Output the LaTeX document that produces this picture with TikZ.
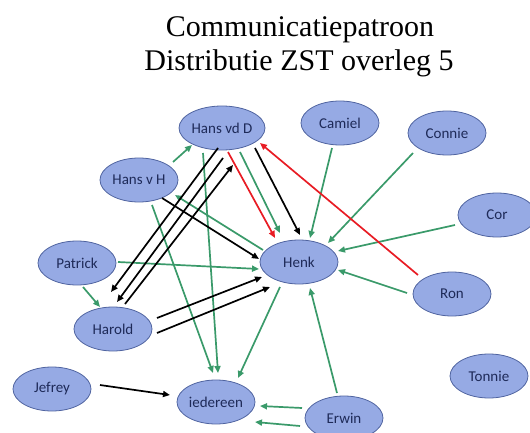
\documentclass[tikz,border=0pt]{standalone}
\usepackage{fontspec}
\setmainfont{Liberation Serif}
\newfontfamily\calibri{Carlito}
\usetikzlibrary{shapes.geometric,arrows.meta}

\definecolor{nodefill}{RGB}{150,170,228}
\definecolor{nodeline}{RGB}{80,100,160}
\definecolor{nodetext}{RGB}{30,42,88}
\definecolor{talkgreen}{RGB}{58,154,106}
\definecolor{talkred}{RGB}{232,28,36}

\tikzset{
  person/.style={ellipse, draw=nodeline, fill=nodefill, line width=0.8pt,
    minimum width=78pt, minimum height=44pt, inner sep=0pt,
    text=nodetext, font=\calibri\fontsize{15}{18}\selectfont},
  talk/.style={line width=1.7pt, -{Triangle[length=7pt,width=6pt]}},
  gtalk/.style={talk, draw=talkgreen},
  btalk/.style={talk, draw=black},
  rtalk/.style={talk, draw=talkred},
  heading/.style={anchor=base, font=\fontsize{30}{34}\selectfont}
}

\begin{document}
\begin{tikzpicture}[x=1pt,y=-1pt]
  \useasboundingbox (0,0) rectangle (530,433);

  % title
  \node[heading] (title1) at (300,37) {Communicatiepatroon};
  \node[heading] (title2) at (299,71) {Distributie ZST overleg 5};

  % people
  \node[person] (hvdd) at (222,128) {Hans vd D};
  \node[person] (camiel) at (340,123) {Camiel};
  \node[person] (connie) at (447,133) {Connie};
  \node[person] (hvh) at (139,180) {Hans v H};
  \node[person] (cor) at (497,215) {Cor};
  \node[person] (henk) at (299,262) {Henk};
  \node[person] (patrick) at (77,263) {Patrick};
  \node[person] (ron) at (452,294) {Ron};
  \node[person] (harold) at (113,329) {Harold};
  \node[person] (jefrey) at (52,389) {Jefrey};
  \node[person] (iedereen) at (216,402) {iedereen};
  \node[person] (tonnie) at (489,376) {Tonnie};
  \node[person] (erwin) at (344,418) {Erwin};

  % green lines
  \draw[gtalk] ([shift={(34,-18)}]hvh.center) -- ([shift={(-30,17)}]hvdd.center);
  \draw[gtalk] ([shift={(18,24)}]hvdd.center) -- ([shift={(-19,-29)}]henk.center);
  \draw[gtalk] ([shift={(-19,25)}]hvdd.center) -- ([shift={(2,-29)}]iedereen.center);
  \draw[gtalk] ([shift={(13,25)}]hvh.center) -- ([shift={(-3,-29)}]iedereen.center);
  \draw[gtalk] ([shift={(-19,25)}]henk.center) -- ([shift={(22,-24)}]iedereen.center);
  \draw[gtalk] ([shift={(-36,-12)}]henk.center) -- ([shift={(36,15)}]hvh.center);
  \draw[gtalk] ([shift={(41,-1)}]patrick.center) -- ([shift={(-40,7)}]henk.center);
  \draw[gtalk] ([shift={(6,24)}]patrick.center) -- ([shift={(-13,-22)}]harold.center);
  \draw[gtalk] ([shift={(-42,-10)}]erwin.center) -- ([shift={(44,4)}]iedereen.center);
  \draw[gtalk] ([shift={(-44,8)}]erwin.center) -- ([shift={(39,20)}]iedereen.center);
  \draw[gtalk] ([shift={(-7,-25)}]erwin.center) -- ([shift={(11,26)}]henk.center);
  \draw[gtalk] ([shift={(-8,25)}]camiel.center) -- ([shift={(11,-24)}]henk.center);
  \draw[gtalk] ([shift={(-34,20)}]connie.center) -- ([shift={(29,-19)}]henk.center);
  \draw[gtalk] ([shift={(-42,10)}]cor.center) -- ([shift={(39,-11)}]henk.center);
  \draw[gtalk] ([shift={(-45,-1)}]ron.center) -- ([shift={(39,8)}]henk.center);

  % black lines
  \draw[btalk] ([shift={(33,20)}]hvdd.center) -- ([shift={(1,-27)}]henk.center);
  \draw[btalk] ([shift={(23,18)}]hvh.center) -- ([shift={(-40,-3)}]henk.center);
  \draw[btalk] ([shift={(-4,20)}]hvdd.center) -- ([shift={(-2,-37)}]harold.center);
  \draw[btalk] ([shift={(1,30)}]hvdd.center) -- ([shift={(4,-27)}]harold.center);
  \draw[btalk] ([shift={(12,-25)}]harold.center) -- ([shift={(11,37)}]hvdd.center);
  \draw[btalk] ([shift={(44,-11)}]harold.center) -- ([shift={(-37,15)}]henk.center);
  \draw[btalk] ([shift={(44,4)}]harold.center) -- ([shift={(-29,25)}]henk.center);
  \draw[btalk] ([shift={(48,-4)}]jefrey.center) -- ([shift={(-46,-7)}]iedereen.center);

  % red lines
  \draw[rtalk] ([shift={(6,24)}]hvdd.center) -- ([shift={(-24,-24)}]henk.center);
  \draw[rtalk] ([shift={(-34,-19)}]ron.center) -- ([shift={(38,15)}]hvdd.center);
\end{tikzpicture}
\end{document}
